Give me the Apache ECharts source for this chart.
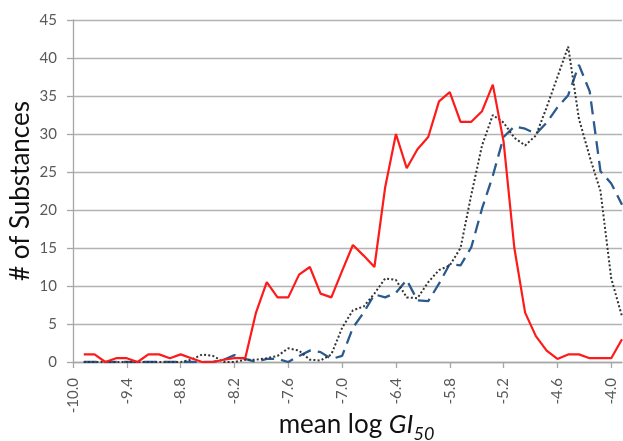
<!DOCTYPE html>
<html>
<head>
<meta charset="utf-8">
<script src="https://cdn.jsdelivr.net/npm/echarts@6/dist/echarts.min.js"></script>
<style>
html,body{margin:0;padding:0;background:#fff;}
#chart{width:623px;height:441px;}
</style>
</head>
<body>
<div id="chart"></div>
<script>
// Bin centers (mean log GI50)
const categories = [-10.00,-9.88,-9.76,-9.64,-9.52,-9.40,-9.28,-9.16,-9.04,-8.92,
  -8.80,-8.68,-8.56,-8.44,-8.32,-8.20,-8.08,-7.96,-7.84,-7.72,
  -7.60,-7.48,-7.36,-7.24,-7.12,-7.00,-6.88,-6.76,-6.64,-6.52,
  -6.40,-6.28,-6.16,-6.04,-5.92,-5.80,-5.68,-5.56,-5.44,-5.32,
  -5.20,-5.08,-4.96,-4.84,-4.72,-4.60,-4.48,-4.36,-4.24,-4.12,
  -4.00,-3.88];

const redSeries = [null,1,1,0,0.5,0.5,0,1,1,0.5,
  1,0.5,0,0,0.3,0.5,0.5,6.5,10.5,8.5,
  8.5,11.5,12.5,9,8.5,12,15.4,14,12.5,23,
  30,25.5,28,29.6,34.3,35.5,31.6,31.6,33,36.5,
  29,15,6.5,3.4,1.5,0.4,1,1,0.5,0.5,
  0.5,3];

const blueSeries = [null,0,0,0,0,0,0,0,0,0,
  0,0,0,0,0.3,0.9,0.4,0,0.4,0.4,
  0,0.8,1.5,1.3,0.4,0.8,4.5,6.5,8.9,8.5,
  9.1,10.8,8.1,8.0,10.3,12.9,12.7,15.1,20.2,24.5,
  29.6,31.0,30.7,30.0,31.5,33.5,35.1,39.1,35.6,25.1,
  23.5,20.7];

const dottedSeries = [null,0,0,0,0,0,0,0,0,0,
  0,0.3,1.0,0.8,0,0,0.3,0.3,0.5,0.8,
  1.8,1.5,0.3,0.2,1.0,4.5,6.8,7.3,9.0,11.0,
  10.8,8.5,8.4,10.5,12.1,12.7,15,22,28.5,32.5,
  31.5,29.5,28.5,29.8,33.5,37.5,41.5,32,27,22.5,
  11,6];

const yMin = 0, yMax = 45, yStep = 5;

const chart = echarts.init(document.getElementById('chart'), null, {renderer:'canvas'});
const font = 'Lato, "Open Sans", sans-serif';

chart.setOption({
  animation: false,
  backgroundColor: '#ffffff',
  grid: {left: 73, right: 1, top: 20, bottom: 79, containLabel: false, outerBoundsMode: 'none'},
  xAxis: {
    type: 'category',
    data: categories,
    boundaryGap: false,
    axisLine: {show: true, lineStyle: {color: '#a6a6a6', width: 1.3}},
    axisTick: {show: true, interval: 4, length: 6, inside: false, lineStyle: {color: '#a6a6a6', width: 1.3}},
    axisLabel: {
      interval: 4, rotate: 90, margin: 16,
      color: '#595959', fontSize: 15, fontFamily: font,
      formatter: v => Number(v).toFixed(1)
    },
    splitLine: {show: false},
    name: '{a|mean log }{b|GI}{c|50}',
    nameLocation: 'middle',
    nameGap: 44,
    nameMoveOverlap: false,
    nameTextStyle: {
      padding: [0, 0, 0, 18],
      rich: {
        a: {fontSize: 26, fontFamily: font, color: '#111', lineHeight: 32, verticalAlign: 'bottom'},
        b: {fontSize: 26, fontFamily: font, color: '#111', fontStyle: 'italic', lineHeight: 32, verticalAlign: 'bottom'},
        c: {fontSize: 18, fontFamily: font, color: '#111', fontStyle: 'italic', lineHeight: 32, verticalAlign: 'bottom', padding: [0,0,-5,0]}
      }
    }
  },
  yAxis: {
    type: 'value',
    min: yMin, max: yMax, interval: yStep,
    axisLine: {show: true, lineStyle: {color: '#a6a6a6', width: 1.3}},
    axisTick: {show: true, length: 6, lineStyle: {color: '#a6a6a6', width: 1.3}},
    axisLabel: {color: '#595959', fontSize: 15, fontFamily: font, margin: 16},
    splitLine: {show: true, lineStyle: {color: '#b3b3b3', width: 1.4}},
    name: '# of Substances',
    nameLocation: 'middle',
    nameGap: 36,
    nameRotate: 90,
    nameMoveOverlap: false,
    nameTextStyle: {fontSize: 26, fontFamily: font, color: '#111', lineHeight: 32}
  },
  series: [
    {
      name: 'blue', type: 'line', data: blueSeries, showSymbol: false, symbol: 'none',
      lineStyle: {color: '#2b5a8e', width: 2.3, type: [13, 7]}, z: 2
    },
    {
      name: 'dotted', type: 'line', data: dottedSeries, showSymbol: false, symbol: 'none',
      lineStyle: {color: '#333333', width: 2, type: [2, 2.2]}, z: 3
    },
    {
      name: 'red', type: 'line', data: redSeries, showSymbol: false, symbol: 'none',
      lineStyle: {color: '#ff1a1a', width: 2.2}, z: 4
    }
  ]
});
</script>
</body>
</html>
